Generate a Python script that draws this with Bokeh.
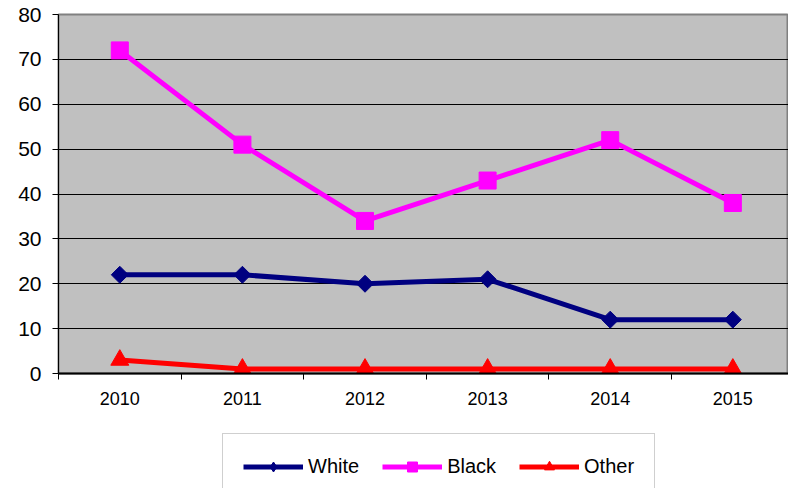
from bokeh.plotting import figure
from bokeh.models import Range1d, FixedTicker, Legend, LegendItem
from bokeh.layouts import column
from bokeh.embed import file_html
from bokeh.resources import INLINE
import math

years = ["2010", "2011", "2012", "2013", "2014", "2015"]
white = [22, 22, 20, 21, 12, 12]
black = [72, 51, 34, 43, 52, 38]
other = [3, 1, 1, 1, 1, 1]
y_ticks = [0, 10, 20, 30, 40, 50, 60, 70, 80]
series_names = ["White", "Black", "Other"]
series_colors = ["#000080", "#FF00FF", "#FF0000"]

FONT = "Liberation Sans"

xs = [i + 0.5 for i in range(len(years))]

p = figure(width=788, height=432, output_backend="svg", toolbar_location=None,
           x_range=Range1d(0, 5.954), y_range=Range1d(0, 80),
           min_border_left=58, min_border_right=0, min_border_top=14, min_border_bottom=59)

p.background_fill_color = "#C0C0C0"
p.border_fill_color = "white"
p.outline_line_color = "#808080"
p.outline_line_width = 2

# x axis
p.xaxis.ticker = FixedTicker(ticks=xs, minor_ticks=list(range(len(years) + 1)))
p.xaxis.major_label_overrides = {x: y for x, y in zip(xs, years)}
p.xaxis.major_tick_line_color = None
p.xaxis.minor_tick_line_color = "black"
p.xaxis.minor_tick_out = 6
p.xaxis.minor_tick_in = 0
p.xaxis.axis_line_color = "black"
p.xaxis.axis_line_width = 2
p.xaxis.major_label_text_font = FONT
p.xaxis.major_label_text_font_size = "18px"
p.xaxis.major_label_text_color = "black"
p.xaxis.major_label_standoff = 12
p.xgrid.grid_line_color = None

# y axis
p.yaxis.ticker = FixedTicker(ticks=y_ticks, minor_ticks=[])
p.yaxis.major_tick_line_color = "black"
p.yaxis.major_tick_out = 6
p.yaxis.major_tick_in = 0
p.yaxis.axis_line_color = "black"
p.yaxis.major_label_text_font = FONT
p.yaxis.major_label_text_font_size = "21px"
p.yaxis.major_label_text_color = "black"
p.yaxis.major_label_standoff = 11
p.ygrid.grid_line_color = "black"
p.ygrid.grid_line_width = 1

p.line(xs, white, line_color=series_colors[0], line_width=5)
p.scatter(xs, white, marker="square", angle=math.pi / 4, size=12,
          fill_color=series_colors[0], line_color=series_colors[0])
p.line(xs, black, line_color=series_colors[1], line_width=5)
p.scatter(xs, black, marker="square", size=17,
          fill_color=series_colors[1], line_color=series_colors[1])
p.line(xs, other, line_color=series_colors[2], line_width=5)
p.scatter(xs, other, marker="triangle", size=18,
          fill_color=series_colors[2], line_color=series_colors[2])

# legend figure (frame aligned with the main plot by the column layout)
p2 = figure(width=788, height=56, output_backend="svg", toolbar_location=None,
            x_range=Range1d(0, 1), y_range=Range1d(0, 1),
            x_axis_type=None, y_axis_type=None,
            min_border_left=0, min_border_right=0, min_border_top=0, min_border_bottom=0)
p2.outline_line_color = None
p2.xgrid.grid_line_color = None
p2.ygrid.grid_line_color = None
p2.background_fill_color = "white"

markers = [("diamond", 13), ("square", 9), ("triangle", 10)]
items = []
for name, col, (mk, sz) in zip(series_names, series_colors, markers):
    l = p2.line([-10, -9], [-10, -9], line_color=col, line_width=5)
    s = p2.scatter([-10], [-10], marker=mk, size=sz, fill_color=col, line_color=col)
    items.append(LegendItem(label=name, renderers=[l, s]))

legend = Legend(items=items, orientation="horizontal", location=(164, -12))
legend.label_text_font = FONT
legend.label_text_font_size = "20px"
legend.label_text_color = "black"
legend.glyph_width = 60
legend.glyph_height = 25
legend.label_height = 25
legend.label_standoff = 5
legend.spacing = 23
legend.padding = 20
legend.margin = 0
legend.border_line_color = "#A0A0A0"
legend.border_line_width = 1
legend.background_fill_color = "white"
legend.background_fill_alpha = 1
p2.add_layout(legend, "center")

layout = column(p, p2, spacing=0)
open("out.html", "w").write(file_html(layout, INLINE))
